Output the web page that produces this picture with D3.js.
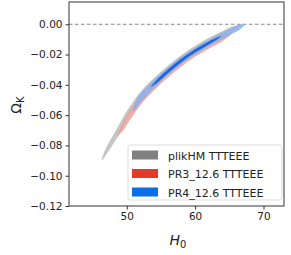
<!DOCTYPE html>
<meta charset="utf-8">
<style>
  body { margin: 0; padding: 0; background: white; }
  svg { font-family: "DejaVu Sans", sans-serif; }
</style>
<script src="https://d3js.org/d3.v7.min.js"></script>
<svg id="vis" width="291" height="255"></svg>
<script>

// contours: H0 samples with lower / upper Omega_k edges
var grayH0 = [46.4, 47.0, 48.0, 49.0, 50.0, 52.0, 54.0, 56.0, 58.0, 60.0, 62.0, 64.0, 65.5, 66.5];
var grayLo = [-0.0895, -0.0856, -0.0788, -0.0714, -0.0638, -0.0506, -0.0409, -0.0325, -0.0250, -0.0187, -0.0133, -0.0084, -0.0045, -0.0011];
var grayHi = [-0.0895, -0.0820, -0.0738, -0.0658, -0.0578, -0.0450, -0.0357, -0.0277, -0.0206, -0.0145, -0.0093, -0.0048, -0.0016, -0.0011];

var redH0 = [48.7, 49.5, 50.0, 52.0, 54.0, 56.0, 58.0, 60.0, 62.0, 64.0, 65.3];
var redLo = [-0.0733, -0.0695, -0.0660, -0.0530, -0.0433, -0.0349, -0.0275, -0.0212, -0.0158, -0.0109, -0.0060];
var redHi = [-0.0733, -0.0651, -0.0606, -0.0476, -0.0383, -0.0303, -0.0231, -0.0170, -0.0118, -0.0073, -0.0060];

var blueH0 = [50.9, 51.5, 52.0, 54.0, 56.0, 58.0, 60.0, 62.0, 64.0, 65.5, 66.5, 67.2];
var blueLo = [-0.0575, -0.0542, -0.0513, -0.0417, -0.0333, -0.0259, -0.0196, -0.0142, -0.0094, -0.0058, -0.0033, -0.0001];
var blueHi = [-0.0575, -0.0500, -0.0464, -0.0370, -0.0290, -0.0218, -0.0157, -0.0105, -0.0059, -0.0024, -0.0006, -0.0001];

var blue2H0 = [53.5, 54.5, 56.0, 58.0, 60.0, 62.0, 63.8];
var blue2Lo = [-0.0415, -0.0385, -0.0324, -0.0250, -0.0187, -0.0133, -0.0080];
var blue2Hi = [-0.0415, -0.0361, -0.0298, -0.0226, -0.0165, -0.0113, -0.0080];

var labels = ["plikHM TTTEEE", "PR3_12.6 TTTEEE", "PR4_12.6 TTTEEE"];
var legendColors = ["#808080", "#e03a28", "#0a6ee8"];

var xTicks = [50, 60, 70];
var yTicks = [0.00, -0.02, -0.04, -0.06, -0.08, -0.10, -0.12];

var svg = d3.select("#vis");
var pl = 69, pr = 284, pt = 2, pb = 206;

var x = d3.scaleLinear().domain([41.55, 73.0]).range([pl, pr]);
var y = d3.scaleLinear().domain([-0.12, 0.0147]).range([pb, pt]);

// dashed zero line
svg.append("line")
  .attr("x1", pl).attr("x2", pr)
  .attr("y1", y(0)).attr("y2", y(0))
  .attr("stroke", "#888").attr("stroke-width", 1)
  .attr("stroke-dasharray", "3.5,2.5");

function band(h0, lo, hi) {
  var pts = h0.map(function(d, i) { return [d, lo[i]]; });
  for (var i = h0.length - 2; i >= 1; i--) pts.push([h0[i], hi[i]]);
  return pts;
}
var area = d3.line().x(function(d) { return x(d[0]); }).y(function(d) { return y(d[1]); }).curve(d3.curveCatmullRomClosed);

var g = svg.append("g");
g.append("path").attr("d", area(band(grayH0, grayLo, grayHi)))
  .attr("fill", "#c6c6c6").attr("stroke", "#b4b4b4").attr("stroke-width", 0.6);
g.append("path").attr("d", area(band(redH0, redLo, redHi)))
  .attr("fill", "#eeaaa4").attr("fill-opacity", 0.9).attr("stroke", "#e39088").attr("stroke-width", 0.6);
g.append("path").attr("d", area(band(blueH0, blueLo, blueHi)))
  .attr("fill", "#8eb3ee").attr("fill-opacity", 0.92).attr("stroke", "#7ea4e4").attr("stroke-width", 0.6);
g.append("path").attr("d", area(band(blue2H0, blue2Lo, blue2Hi)))
  .attr("fill", "#1e66da");

// frame
svg.append("rect")
  .attr("x", pl).attr("y", pt)
  .attr("width", pr - pl).attr("height", pb - pt)
  .attr("fill", "none").attr("stroke", "#333").attr("stroke-width", 1);

// axes
var xAxis = svg.append("g").attr("transform", "translate(0," + pb + ")")
  .call(d3.axisBottom(x).tickValues(xTicks).tickSize(3.5).tickPadding(3));
var yAxis = svg.append("g").attr("transform", "translate(" + pl + ",0)")
  .call(d3.axisLeft(y).tickValues(yTicks).tickSize(3.5).tickPadding(3)
    .tickFormat(function(d) { return d3.format(".2f")(d).replace("-", "\u2212"); }));
[xAxis, yAxis].forEach(function(a) {
  a.select(".domain").remove();
  a.selectAll("text").attr("font-size", 10.5).attr("fill", "#222").attr("font-family", "DejaVu Sans, sans-serif");
  a.selectAll("line").attr("stroke", "#333");
});

// axis labels
svg.append("text")
  .attr("transform", "translate(21,105) rotate(-90)")
  .attr("text-anchor", "middle")
  .attr("font-size", 14).attr("fill", "#222")
  .html('\u03A9<tspan font-size="10" dy="3">K</tspan>');
svg.append("text")
  .attr("x", 178).attr("y", 245)
  .attr("text-anchor", "middle")
  .attr("font-size", 14).attr("fill", "#222")
  .html('<tspan font-style="italic">H</tspan><tspan font-size="10" dy="3">0</tspan>');

// legend
var lg = svg.append("g");
lg.append("rect")
  .attr("x", 128).attr("y", 145).attr("width", 154).attr("height", 55)
  .attr("rx", 2).attr("fill", "white").attr("fill-opacity", 0.85)
  .attr("stroke", "#ddd");
labels.forEach(function(d, i) {
  var yy = 150.5 + i * 18.5;
  lg.append("rect").attr("x", 132).attr("y", yy).attr("width", 26).attr("height", 9)
    .attr("fill", legendColors[i]);
  lg.append("text").attr("x", 168).attr("y", yy + 9)
    .attr("font-size", 11).attr("fill", "#222").text(d);
});

</script>
